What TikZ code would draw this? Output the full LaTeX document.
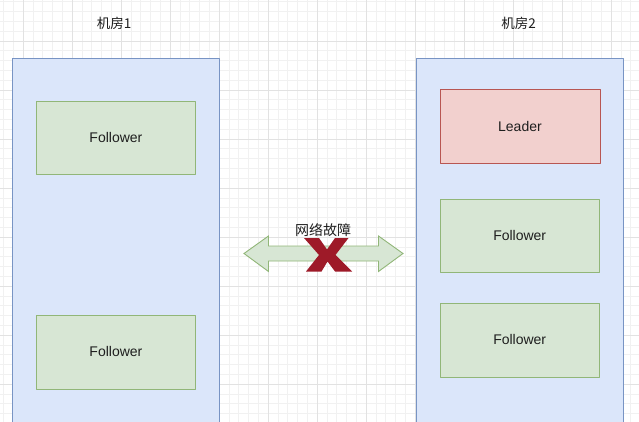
\documentclass[tikz,border=0pt]{standalone}
\usepackage{fontspec}
\setmainfont{Liberation Sans}
\newfontfamily\cjk{Noto Sans CJK SC}
\definecolor{gridminor}{RGB}{241,241,241}
\definecolor{gridmajor}{RGB}{226,226,226}
\definecolor{roomfill}{RGB}{219,230,250}
\definecolor{roomline}{RGB}{120,148,196}
\definecolor{folfill}{RGB}{215,230,212}
\definecolor{folline}{RGB}{145,182,120}
\definecolor{leadfill}{RGB}{242,208,206}
\definecolor{leadline}{RGB}{184,86,82}
\definecolor{crossred}{RGB}{158,26,40}
\definecolor{textgray}{RGB}{30,30,30}
\begin{document}
\begin{tikzpicture}[x=1pt,y=-1pt,join=round,
    room/.style={draw=roomline,fill=roomfill,line width=.8pt,anchor=north west,inner sep=0pt,minimum width=207pt,minimum height=380pt},
    follower/.style={draw=folline,fill=folfill,line width=.9pt,anchor=north west,inner sep=0pt,minimum width=160pt,minimum height=73pt,text=textgray,font=\fontsize{14}{16}\selectfont},
    leader/.style={follower,draw=leadline,fill=leadfill},
    roomtitle/.style={text=textgray,font=\fontsize{13.5}{16}\selectfont,inner sep=0pt}]
   \clip (0,0) rectangle (639,422);
   \fill[white] (0,0) rectangle (639,422);
   % grid
   \foreach \i in {0,...,65} \draw[gridminor,line width=.6pt] ({3.4+9.8*\i},0) -- ({3.4+9.8*\i},422);
   \foreach \i in {0,...,43} \draw[gridminor,line width=.6pt] (0,{1.8+9.8*\i}) -- (639,{1.8+9.8*\i});
   \foreach \i in {0,...,12} \draw[gridmajor,line width=.7pt] ({23+49*\i},0) -- ({23+49*\i},422);
   \foreach \i in {0,...,7} \draw[gridmajor,line width=.7pt] (0,{41+49*\i}) -- (639,{41+49*\i});
   % rooms
   \node[room] (room1) at (12,58.5) {};
   \node[room] (room2) at (415.5,58.5) {};
   \node[roomtitle] (title1) at (114,23.5) {\cjk 机房1};
   \node[roomtitle] (title2) at (518.5,23.5) {\cjk 机房2};
   \node[follower,minimum width=159pt] (fol1a) at (36,101) {Follower};
   \node[follower,minimum width=159pt,minimum height=74pt] (fol1b) at (36,314.5) {Follower};
   \node[leader,minimum height=74pt] (lead) at (439.5,89) {Leader};
   \node[follower,minimum width=159.5pt] (fol2a) at (439.5,199) {Follower};
   \node[follower,minimum width=159.5pt,minimum height=74pt] (fol2b) at (439.5,302.5) {Follower};
   % broken link
   \filldraw[draw=folline,fill=folfill,line width=.9pt,line join=miter]
        (244,253.5)--(268.5,236)--(268.5,246)--(378.5,246)--(378.5,236)--(403,253.5)
        --(378.5,271.5)--(378.5,261)--(268.5,261)--(268.5,271.5)--cycle;
   \fill[crossred] (304,238)--(319,238)--(327,249.5)--(335,238)--(348.5,238)--(335.5,255)
        --(352,271.5)--(335,271.5)--(327.5,261.5)--(321.5,271.5)--(306,271.5)--(319,255)--cycle;
   \node[text=textgray,font=\cjk\fontsize{14}{16}\selectfont,inner sep=0pt] (fault) at (323,230) {网络故障};
\end{tikzpicture}
\end{document}
